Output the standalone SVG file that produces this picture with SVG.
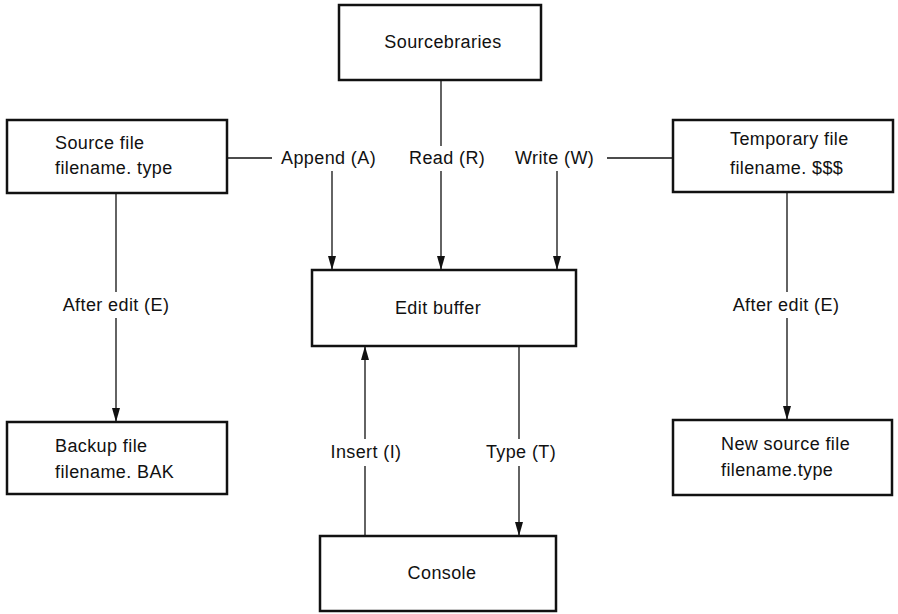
<svg xmlns="http://www.w3.org/2000/svg" width="898" height="614" viewBox="0 0 898 614">
<style>
.box{fill:#fff;stroke:#111;stroke-width:2.5}
.ln{fill:none;stroke:#111;stroke-width:1.3}
text{font-family:"Liberation Sans",Arial,sans-serif;font-size:18px;fill:#111;letter-spacing:0.4px}
.c{text-anchor:middle}
</style>
<defs>
<marker id="ah" markerUnits="userSpaceOnUse" markerWidth="14" markerHeight="8" refX="13" refY="4" orient="auto" viewBox="0 0 14 8">
<path d="M0,0 L14,4 L0,8 Z" fill="#111"/>
</marker>
</defs>
<rect width="898" height="614" fill="#fff"/>
<g id="connectors">
<path class="ln" d="M441,80 V146 M441,171 V269" marker-end="url(#ah)"/>
<path class="ln" d="M227,158 H272"/>
<path class="ln" d="M332,171 V269" marker-end="url(#ah)"/>
<path class="ln" d="M607,158 H673"/>
<path class="ln" d="M557,171 V269" marker-end="url(#ah)"/>
<path class="ln" d="M116,193 V292 M116,318 V421" marker-end="url(#ah)"/>
<path class="ln" d="M787,192 V292 M787,318 V419" marker-end="url(#ah)"/>
<path class="ln" d="M365,536 V466 M365,439 V347" marker-end="url(#ah)"/>
<path class="ln" d="M519,346 V439 M519,466 V535" marker-end="url(#ah)"/>
<text x="281" y="164">Append (A)</text>
<text x="409" y="164">Read (R)</text>
<text x="515" y="164">Write (W)</text>
<text class="c" x="116" y="311">After edit (E)</text>
<text class="c" x="786" y="311">After edit (E)</text>
<text class="c" x="366" y="458">Insert (I)</text>
<text class="c" x="521" y="458">Type (T)</text>
</g>
<g id="sourcebraries">
<rect class="box" x="339" y="5" width="202" height="75"/>
<text class="c" x="443" y="48">Sourcebraries</text>
</g>
<g id="source-file">
<rect class="box" x="7" y="120" width="220" height="73"/>
<text x="55" y="149">Source file</text>
<text x="55" y="174">filename. type</text>
</g>
<g id="temp-file">
<rect class="box" x="673" y="120" width="220" height="72"/>
<text x="730" y="145">Temporary file</text>
<text x="730" y="174">filename. $$$</text>
</g>
<g id="edit-buffer">
<rect class="box" x="312" y="270" width="264" height="76"/>
<text class="c" x="438" y="314">Edit buffer</text>
</g>
<g id="backup-file">
<rect class="box" x="7" y="422" width="220" height="72"/>
<text x="55" y="452">Backup file</text>
<text x="55" y="478">filename. BAK</text>
</g>
<g id="new-source-file">
<rect class="box" x="673" y="420" width="219" height="75"/>
<text x="721" y="450">New source file</text>
<text x="721" y="476">filename.type</text>
</g>
<g id="console">
<rect class="box" x="320" y="536" width="236" height="75"/>
<text class="c" x="442" y="579">Console</text>
</g>
</svg>
